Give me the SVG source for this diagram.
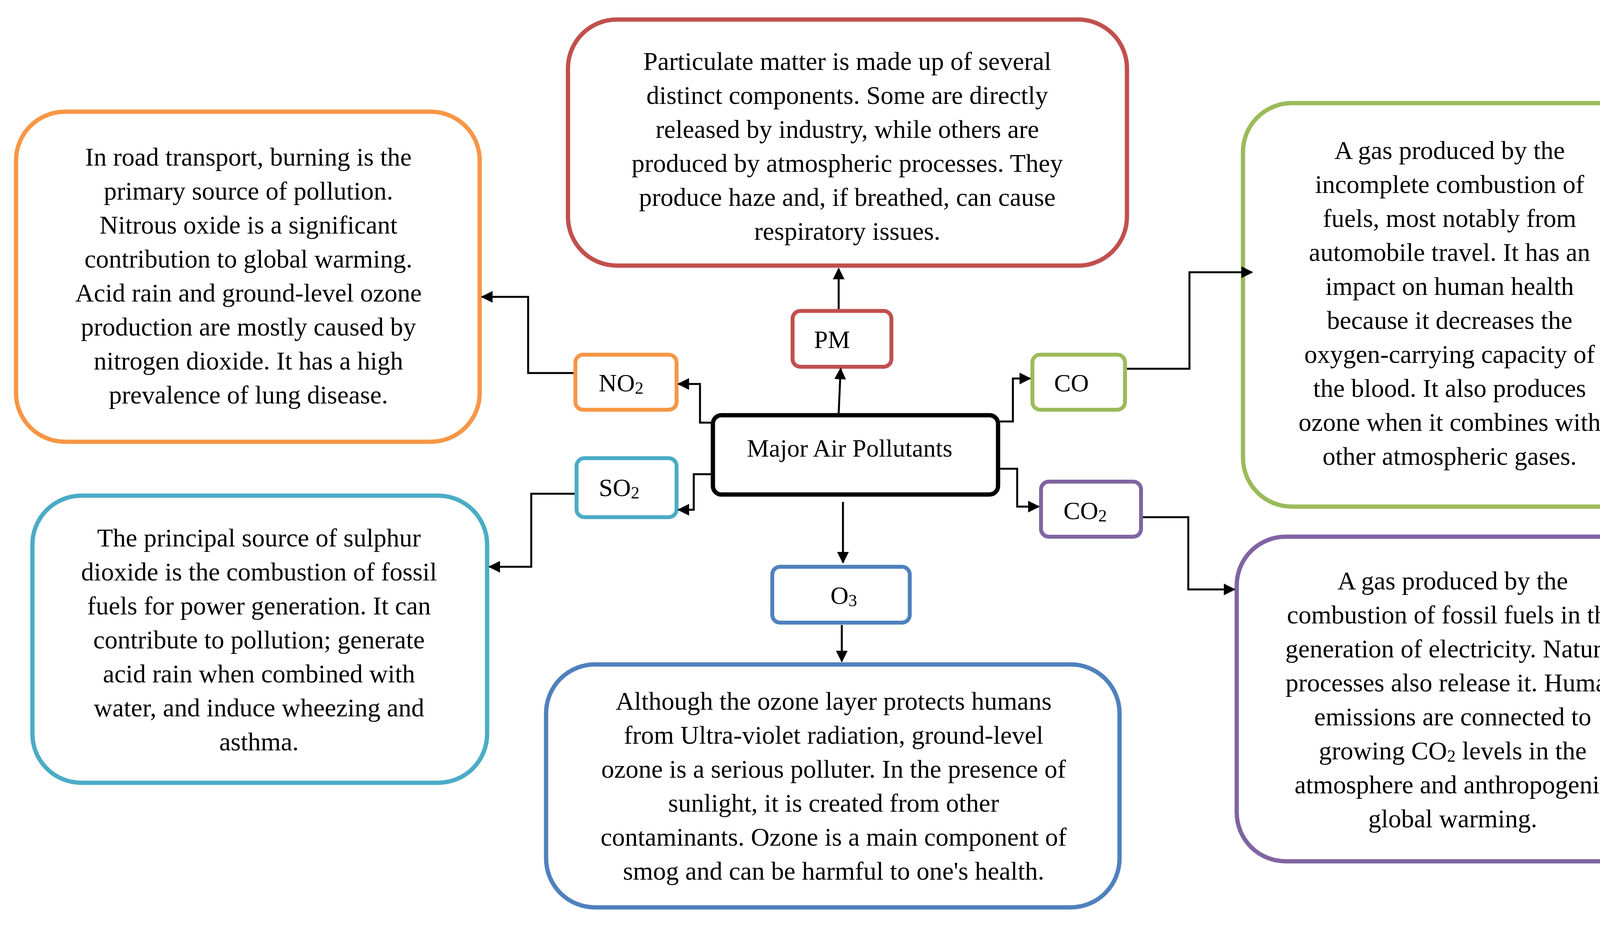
<svg xmlns="http://www.w3.org/2000/svg" width="4317" height="2386" viewBox="0 0 4317 2386">
<style>
text{font-family:"Liberation Serif","Times New Roman",serif;fill:#000;text-anchor:middle}
.d{font-size:66px}
.l{font-size:64px}
.big{fill:#fff;stroke-width:11}
.sm{fill:#fff;stroke-width:10}
.c{fill:none;stroke:#000;stroke-width:5;marker-end:url(#a)}
.s{font-size:44px}
</style>
<defs><marker id="a" viewBox="0 0 10 10" refX="9" refY="5" markerWidth="30" markerHeight="30" orient="auto" markerUnits="userSpaceOnUse"><path d="M0,0L10,5L0,10z" fill="#000"/></marker></defs>
<rect width="4317" height="2386" fill="#fff"/>
<g id="pm-desc"><rect class="big" x="1454" y="50" width="1431" height="630" rx="125" stroke="#C0504D"/>
<text class="d" x="2169" y="179">Particulate matter is made up of several</text>
<text class="d" x="2169" y="266">distinct components. Some are directly</text>
<text class="d" x="2169" y="353">released by industry, while others are</text>
<text class="d" x="2169" y="440">produced by atmospheric processes. They</text>
<text class="d" x="2169" y="527">produce haze and, if breathed, can cause</text>
<text class="d" x="2169" y="614">respiratory issues.</text></g>
<g id="no2-desc"><rect class="big" x="41" y="286" width="1187" height="845" rx="125" stroke="#F79646"/>
<text class="d" x="636" y="424">In road transport, burning is the</text>
<text class="d" x="636" y="511">primary source of pollution.</text>
<text class="d" x="636" y="598">Nitrous oxide is a significant</text>
<text class="d" x="636" y="685">contribution to global warming.</text>
<text class="d" x="636" y="772">Acid rain and ground-level ozone</text>
<text class="d" x="636" y="859">production are mostly caused by</text>
<text class="d" x="636" y="946">nitrogen dioxide. It has a high</text>
<text class="d" x="636" y="1033">prevalence of lung disease.</text></g>
<g id="co-desc"><rect class="big" x="3182" y="264" width="1060" height="1033" rx="125" stroke="#9BBB59"/>
<text class="d" x="3711" y="407">A gas produced by the</text>
<text class="d" x="3711" y="494">incomplete combustion of</text>
<text class="d" x="3711" y="581">fuels, most notably from</text>
<text class="d" x="3711" y="668">automobile travel. It has an</text>
<text class="d" x="3711" y="755">impact on human health</text>
<text class="d" x="3711" y="842">because it decreases the</text>
<text class="d" x="3711" y="929">oxygen-carrying capacity of</text>
<text class="d" x="3711" y="1016">the blood. It also produces</text>
<text class="d" x="3711" y="1103">ozone when it combines with</text>
<text class="d" x="3711" y="1190">other atmospheric gases.</text></g>
<g id="so2-desc"><rect class="big" x="83" y="1269" width="1164" height="735" rx="125" stroke="#4BACC6"/>
<text class="d" x="663" y="1399">The principal source of sulphur</text>
<text class="d" x="663" y="1486">dioxide is the combustion of fossil</text>
<text class="d" x="663" y="1573">fuels for power generation. It can</text>
<text class="d" x="663" y="1660">contribute to pollution; generate</text>
<text class="d" x="663" y="1747">acid rain when combined with</text>
<text class="d" x="663" y="1834">water, and induce wheezing and</text>
<text class="d" x="663" y="1921">asthma.</text></g>
<g id="co2-desc"><rect class="big" x="3166" y="1374" width="1107" height="831" rx="125" stroke="#8064A2"/>
<text class="d" x="3719" y="1509">A gas produced by the</text>
<text class="d" x="3719" y="1596">combustion of fossil fuels in the</text>
<text class="d" x="3719" y="1683">generation of electricity. Natural</text>
<text class="d" x="3719" y="1770">processes also release it. Human</text>
<text class="d" x="3719" y="1857">emissions are connected to</text>
<text class="d" x="3719" y="1944">growing CO<tspan class="s" dy="6">2</tspan><tspan dy="-6"> levels in the</tspan></text>
<text class="d" x="3719" y="2031">atmosphere and anthropogenic</text>
<text class="d" x="3719" y="2118">global warming.</text></g>
<g id="o3-desc"><rect class="big" x="1398" y="1701" width="1468" height="622" rx="125" stroke="#4F81BD"/>
<text class="d" x="2134" y="1817">Although the ozone layer protects humans</text>
<text class="d" x="2134" y="1904">from Ultra-violet radiation, ground-level</text>
<text class="d" x="2134" y="1991">ozone is a serious polluter. In the presence of</text>
<text class="d" x="2134" y="2078">sunlight, it is created from other</text>
<text class="d" x="2134" y="2165">contaminants. Ozone is a main component of</text>
<text class="d" x="2134" y="2252">smog and can be harmful to one's health.</text></g>
<g id="center"><rect x="1825" y="1063" width="730" height="203" rx="22" fill="#fff" stroke="#000" stroke-width="11"/>
<text class="l" x="2175" y="1169">Major Air Pollutants</text></g>
<g id="pm"><rect class="sm" x="2029" y="796" width="253" height="143" rx="20" stroke="#C0504D"/><text class="l" x="2130" y="891">PM</text></g>
<g id="no2"><rect class="sm" x="1473" y="908" width="259" height="141" rx="20" stroke="#F79646"/><text class="l" x="1590" y="1002">NO<tspan class="s" dy="6">2</tspan></text></g>
<g id="co"><rect class="sm" x="2643" y="908" width="237" height="141" rx="20" stroke="#9BBB59"/><text class="l" x="2743" y="1002">CO</text></g>
<g id="so2"><rect class="sm" x="1476" y="1173" width="256" height="151" rx="20" stroke="#4BACC6"/><text class="l" x="1585" y="1270">SO<tspan class="s" dy="6">2</tspan></text></g>
<g id="co2"><rect class="sm" x="2665" y="1233" width="256" height="141" rx="20" stroke="#8064A2"/><text class="l" x="2778" y="1329">CO<tspan class="s" dy="6">2</tspan></text></g>
<g id="o3"><rect class="sm" x="1977" y="1451" width="352" height="143" rx="20" stroke="#4F81BD"/><text class="l" x="2160" y="1546">O<tspan class="s" dy="6">3</tspan></text></g>
<g id="connectors">
<path class="c" d="M2147,1058L2152,944"/>
<path class="c" d="M2147,791V688"/>
<path class="c" d="M1820,1082H1792V983H1737"/>
<path class="c" d="M1468,955H1352V760H1234"/>
<path class="c" d="M1820,1214H1776V1305H1737"/>
<path class="c" d="M1471,1264H1360V1451H1253"/>
<path class="c" d="M2560,1079H2593V969H2637"/>
<path class="c" d="M2885,944H3045V697H3205"/>
<path class="c" d="M2560,1200H2604V1297H2659"/>
<path class="c" d="M2926,1324H3042V1509H3160"/>
<path class="c" d="M2158,1285V1440"/>
<path class="c" d="M2155,1600V1693"/>
</g>
</svg>
